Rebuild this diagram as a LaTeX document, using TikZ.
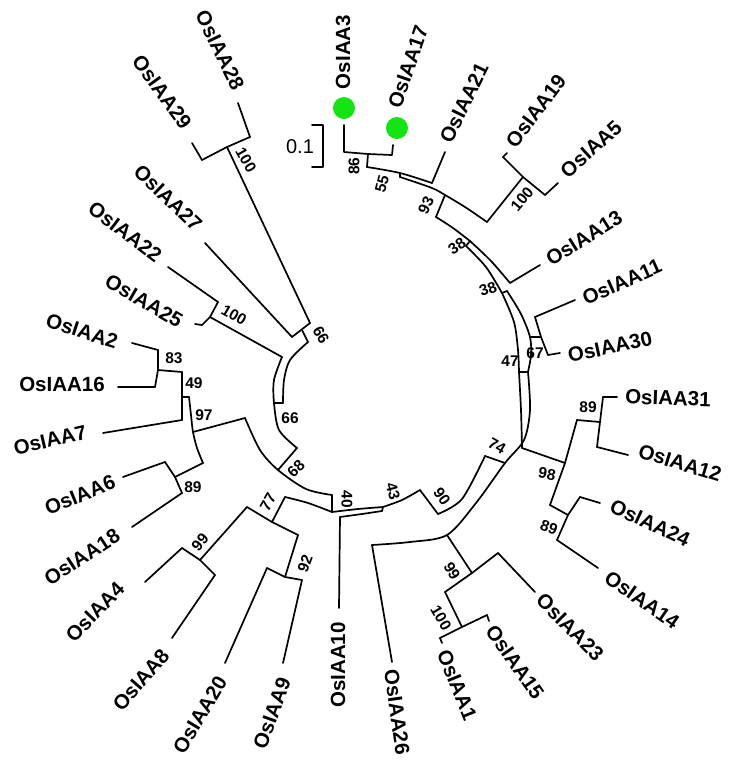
\documentclass[tikz,border=0pt]{standalone}
\usepackage{fontspec}
\setmainfont{Liberation Sans}
\definecolor{dotgreen}{RGB}{20,228,20}
\tikzset{
  br/.style={line width=1.7pt, line join=round, line cap=round},
  lab/.style={font=\fontsize{20.5}{24}\selectfont\bfseries, inner sep=0pt},
  bs/.style={font=\fontsize{15.5}{17}\selectfont\bfseries, inner sep=0pt},
  greendot/.style={circle, fill=dotgreen, minimum size=22pt, inner sep=0pt}
}
\begin{document}
\begin{tikzpicture}[x=1pt,y=-1pt]
\useasboundingbox (0,0) rectangle (730,766);

% ---------- scale bar ----------
\coordinate (sb1) at (312,125); \coordinate (sb2) at (323,125);
\coordinate (sb3) at (323,167); \coordinate (sb4) at (312,167);
\draw[br] (sb1) -- (sb2) -- (sb3) -- (sb4);
\node[font=\fontsize{20}{22}\selectfont, inner sep=0pt] (sbl) at (300,147) {0.1};

% ---------- clade OsIAA3 / 17 / 21 / 19 / 5 ----------
\coordinate (t3) at (344,125);  \coordinate (a86) at (344,152);
\coordinate (m86) at (368,154); \coordinate (b86) at (392,155);
\coordinate (t17) at (393,145); \coordinate (f86) at (367,167);
\coordinate (s55) at (400,173); \coordinate (s55i) at (400,177);
\coordinate (j21) at (432,183); \coordinate (t21) at (445,152);
\coordinate (n93) at (445,195); \coordinate (f93) at (436,217);
\coordinate (j100) at (487,222); \coordinate (m100) at (523,177);
\coordinate (a100) at (503,157); \coordinate (t19) at (507,153);
\coordinate (b100) at (545,195); \coordinate (t5) at (558,183);

\draw[br] (t3) -- (a86) -- (m86) -- (b86) -- (t17);
\draw[br] (m86) -- (f86);
\draw[br] plot[smooth] coordinates {(f86) (s55) (j21)};
\draw[br] (s55) -- (s55i);
\draw[br] plot[smooth] coordinates {(s55i) (432,188) (n93) (465,207) (j100)};
\draw[br] (j21) -- (t21);
\draw[br] (n93) -- (f93);
\draw[br] (j100) -- (m100);
\draw[br] (a100) -- (m100) -- (b100);
\draw[br] (a100) -- (t19);
\draw[br] (b100) -- (t5);

% ---------- right side: 13, 11, 30, 31, 12, 24, 14 ----------
\coordinate (n38u) at (470,241);  \coordinate (n38ui) at (466,246);
\coordinate (j13) at (510,283);   \coordinate (t13) at (540,265);
\coordinate (n38l) at (502,293);  \coordinate (n38lo) at (507,291);
\coordinate (f67) at (530,337);   \coordinate (m67) at (541,337);
\coordinate (a67) at (535,317);   \coordinate (b67) at (548,355);
\coordinate (t11) at (575,300);   \coordinate (t30) at (560,353);
\coordinate (n47i) at (519,372);  \coordinate (n47o) at (528,372);
\coordinate (j98) at (522,448);   \coordinate (m98) at (565,463);
\coordinate (a98) at (577,420);   \coordinate (b98) at (550,505);
\coordinate (a89u) at (603,397);  \coordinate (m89u) at (600,422);
\coordinate (b89u) at (597,447);  \coordinate (t31) at (617,397);
\coordinate (t12) at (628,455);
\coordinate (m89l) at (568,515);  \coordinate (a89l) at (580,497);
\coordinate (b89l) at (557,540);  \coordinate (t24) at (600,503);
\coordinate (t14) at (598,568);
\coordinate (n74o) at (505,463);  \coordinate (n74i) at (485,456);

\draw[br] plot[smooth] coordinates {(f93) (453,228) (n38u)};
\draw[br] plot[smooth] coordinates {(n38u) (491,261) (j13)};
\draw[br] (n38u) -- (n38ui);
\draw[br] plot[smooth] coordinates {(n38ui) (486,267) (n38l)};
\draw[br] (j13) -- (t13);
\draw[br] (n38l) -- (n38lo);
\draw[br] plot[smooth] coordinates {(n38lo) (521,314) (f67) (531,355) (n47o)};
\draw[br] (f67) -- (m67);
\draw[br] (a67) -- (m67) -- (b67);
\draw[br] (a67) -- (t11);
\draw[br] (b67) -- (t30);
\draw[br] plot[smooth] coordinates {(n38l) (514,322) (518,350) (n47i)};
\draw[br] (n47i) -- (n47o);
\draw[br] plot[smooth] coordinates {(n47i) (521,410) (j98)};
\draw[br] (j98) -- (m98);
\draw[br] (a98) -- (m98) -- (b98);
\draw[br] (a98) -- (m89u);
\draw[br] (a89u) -- (m89u) -- (b89u);
\draw[br] (a89u) -- (t31);
\draw[br] (b89u) -- (t12);
\draw[br] (b98) -- (m89l);
\draw[br] (a89l) -- (m89l) -- (b89l);
\draw[br] (a89l) -- (t24);
\draw[br] (b89l) -- (t14);

% ---------- bottom: 23, 15, 1, 26, 10 ----------
\coordinate (j26) at (372,545);   \coordinate (j99) at (447,535);
\coordinate (n90b) at (438,514);  \coordinate (n90t) at (420,490);
\coordinate (n43) at (383,507);   \coordinate (n43i) at (382,511);
\coordinate (n40t) at (332,495);  \coordinate (n40b) at (332,512);
\coordinate (j10) at (340,517);   \coordinate (t10) at (339,608);
\coordinate (t26) at (392,662);
\coordinate (m99) at (472,573);   \coordinate (a99) at (445,592);
\coordinate (b99) at (498,553);   \coordinate (t23) at (535,592);
\coordinate (m100b) at (462,627); \coordinate (a100b) at (440,638);
\coordinate (b100b) at (487,615); \coordinate (t1) at (442,643);
\coordinate (t15) at (489,621);

\draw[br] plot[smooth] coordinates {(n47o) (530,410) (524,440) (n74o) (476,503) (j99) (410,542) (j26)};
\draw[br] (n74o) -- (n74i);
\draw[br] plot[smooth] coordinates {(n74i) (462,499) (n90b)};
\draw[br] (n90b) -- (n90t);
\draw[br] plot[smooth] coordinates {(n90t) (402,500) (n43)};
\draw[br] (n43) -- (n43i);
\draw[br] plot[smooth] coordinates {(n40b) (358,509) (n43)};
\draw[br] plot[smooth] coordinates {(j10) (362,514) (n43i)};
\draw[br] (n40t) -- (n40b);
\draw[br] (j10) -- (t10);
\draw[br] (j26) -- (t26);
\draw[br] (j99) -- (m99);
\draw[br] (a99) -- (m99) -- (b99);
\draw[br] (b99) -- (t23);
\draw[br] (a99) -- (m100b);
\draw[br] (a100b) -- (m100b) -- (b100b);
\draw[br] (a100b) -- (t1);
\draw[br] (b100b) -- (t15);

% ---------- bottom left: 4, 8, 20, 9 ----------
\coordinate (j77) at (285,497);   \coordinate (m77) at (272,522);
\coordinate (a77) at (247,507);   \coordinate (b77) at (298,535);
\coordinate (m99b) at (200,560);  \coordinate (a99b) at (182,548);
\coordinate (b99b) at (215,575);  \coordinate (t4) at (145,582);
\coordinate (t8) at (172,638);
\coordinate (m92) at (285,577);   \coordinate (a92) at (267,568);
\coordinate (b92) at (302,580);   \coordinate (t20) at (225,663);
\coordinate (t9) at (283,663);

\draw[br] plot[smooth] coordinates {(j77) (308,503) (n40b)};
\draw[br] (j77) -- (m77);
\draw[br] (a77) -- (m77) -- (b77);
\draw[br] (a77) -- (m99b);
\draw[br] (a99b) -- (m99b) -- (b99b);
\draw[br] (a99b) -- (t4);
\draw[br] (b99b) -- (t8);
\draw[br] (b77) -- (m92);
\draw[br] (a92) -- (m92) -- (b92);
\draw[br] (a92) -- (t20);
\draw[br] (b92) -- (t9);

% ---------- left: 2, 16, 7, 6, 18 ----------
\coordinate (j97) at (245,418);   \coordinate (r97) at (193,432);
\coordinate (n49i) at (182,397);  \coordinate (n49o) at (189,397);
\coordinate (j83) at (182,372);   \coordinate (j7) at (182,420);
\coordinate (m83) at (158,370);   \coordinate (a83) at (158,350);
\coordinate (b83) at (155,387);   \coordinate (t2) at (132,343);
\coordinate (t16) at (118,387);   \coordinate (t7) at (103,433);
\coordinate (j89) at (203,463);   \coordinate (m89) at (175,477);
\coordinate (a89) at (165,462);   \coordinate (b89) at (182,493);
\coordinate (t6) at (123,477);    \coordinate (t18) at (132,527);
\coordinate (n68a) at (297,448);  \coordinate (n68b) at (278,470);

\draw[br] plot[smooth] coordinates {(j97) (260,450) (n68b) (306,489) (n40t)};
\draw[br] (n68a) -- (n68b);
\draw[br] (j97) -- (r97);
\draw[br] plot[smooth] coordinates {(n49o) (191,415) (r97) (197,448) (j89)};
\draw[br] (n49i) -- (n49o);
\draw[br] (j83) -- (n49i) -- (j7);
\draw[br] (j83) -- (m83);
\draw[br] (a83) -- (m83) -- (b83);
\draw[br] (a83) -- (t2);
\draw[br] (b83) -- (t16);
\draw[br] (j7) -- (t7);
\draw[br] (j89) -- (m89);
\draw[br] (a89) -- (m89) -- (b89);
\draw[br] (a89) -- (t6);
\draw[br] (b89) -- (t18);

% ---------- upper left: 25, 22, 27, 29, 28 ----------
\coordinate (j2225) at (282,357); \coordinate (m2225) at (210,317);
\coordinate (a2225) at (218,302); \coordinate (b2225) at (202,325);
\coordinate (t22) at (168,267);   \coordinate (t25) at (195,324);
\coordinate (n66a) at (292,337);  \coordinate (n66b) at (310,323);
\coordinate (n66m) at (302,330);  \coordinate (n66f) at (308,342);
\coordinate (t27) at (205,243);
\coordinate (m2829) at (227,147); \coordinate (a2829) at (250,137);
\coordinate (b2829) at (202,160); \coordinate (t28) at (238,103);
\coordinate (t29) at (192,143);
\coordinate (n66li) at (283,403); \coordinate (n66lo) at (274,403);

\draw[br] plot[smooth] coordinates {(j2225) (274,380) (n66lo) (279,430) (n68a)};
\draw[br] plot[smooth] coordinates {(n66f) (290,360) (284,380) (n66li)};
\draw[br] (n66li) -- (n66lo);
\draw[br] (n66m) -- (n66f);
\draw[br] (n66a) -- (n66b);
\draw[br] (n66a) -- (t27);
\draw[br] (n66b) -- (m2829);
\draw[br] (a2829) -- (m2829) -- (b2829);
\draw[br] (a2829) -- (t28);
\draw[br] (b2829) -- (t29);
\draw[br] (j2225) -- (m2225);
\draw[br] (a2225) -- (m2225) -- (b2225);
\draw[br] (a2225) -- (t22);
\draw[br] (b2225) -- (t25);

% ---------- marked genes ----------
\node[greendot] (d3) at (344,108) {};
\node[greendot] (d17) at (397,128) {};

% ---------- leaf labels ----------
\node[lab, rotate=90]  (L3)  at (343,52)  {OsIAA3};
\node[lab, rotate=71]  (L17) at (408,67)  {OsIAA17};
\node[lab, rotate=64]  (L21) at (464,103) {OsIAA21};
\node[lab, rotate=53]  (L19) at (536,111) {OsIAA19};
\node[lab, rotate=42]  (L5)  at (591,149) {OsIAA5};
\node[lab, rotate=32]  (L13) at (584,238) {OsIAA13};
\node[lab, rotate=24]  (L11) at (622,282) {OsIAA11};
\node[lab, rotate=12]  (L30) at (610,347) {OsIAA30};
\node[lab, rotate=-2]  (L31) at (668,398) {OsIAA31};
\node[lab, rotate=-17] (L12) at (680,463) {OsIAA12};
\node[lab, rotate=-25] (L24) at (650,523) {OsIAA24};
\node[lab, rotate=-35] (L14) at (642,600) {OsIAA14};
\node[lab, rotate=-45] (L23) at (570,627) {OsIAA23};
\node[lab, rotate=-55] (L15) at (515,662) {OsIAA15};
\node[lab, rotate=-68] (L1)  at (457,685) {OsIAA1};
\node[lab, rotate=-82] (L26) at (397,712) {OsIAA26};
\node[lab, rotate=90]  (L10) at (338,665) {OsIAA10};
\node[lab, rotate=70]  (L9)  at (272,713) {OsIAA9};
\node[lab, rotate=59]  (L20) at (200,715) {OsIAA20};
\node[lab, rotate=49]  (L8)  at (141,680) {OsIAA8};
\node[lab, rotate=46]  (L4)  at (95,612)  {OsIAA4};
\node[lab, rotate=33]  (L18) at (82,557)  {OsIAA18};
\node[lab, rotate=22]  (L6)  at (80,495)  {OsIAA6};
\node[lab, rotate=13]  (L7)  at (50,440)  {OsIAA7};
\node[lab, rotate=0]   (L16) at (62,384)  {OsIAA16};
\node[lab, rotate=-18] (L2)  at (82,331)  {OsIAA2};
\node[lab, rotate=-30] (L25) at (144,301) {OsIAA25};
\node[lab, rotate=-37] (L22) at (125,232) {OsIAA22};
\node[lab, rotate=-44] (L27) at (168,198) {OsIAA27};
\node[lab, rotate=-54] (L29) at (162,92)  {OsIAA29};
\node[lab, rotate=-64] (L28) at (220,50)  {OsIAA28};

% ---------- bootstrap values ----------
\node[bs, rotate=90]  (B86)  at (354,166) {86};
\node[bs, rotate=75]  (B55)  at (382,184) {55};
\node[bs, rotate=65]  (B93)  at (426,205) {93};
\node[bs, rotate=50]  (B100a) at (522,199) {100};
\node[bs, rotate=35]  (B38a) at (457,246) {38};
\node[bs, rotate=20]  (B38b) at (488,289) {38};
\node[bs]             (B47)  at (510,361) {47};
\node[bs]             (B67)  at (535,353) {67};
\node[bs]             (B89a) at (588,407) {89};
\node[bs, rotate=-10] (B98)  at (547,474) {98};
\node[bs, rotate=-20] (B89b) at (549,527) {89};
\node[bs, rotate=-30] (B74)  at (497,446) {74};
\node[bs, rotate=-55] (B90)  at (442,496) {90};
\node[bs, rotate=-75] (B43)  at (393,491) {43};
\node[bs, rotate=-90] (B40)  at (347,499) {40};
\node[bs, rotate=-60] (B99a) at (452,571) {99};
\node[bs, rotate=-60] (B100b) at (441,618) {100};
\node[bs, rotate=70]  (B92)  at (305,564) {92};
\node[bs, rotate=60]  (B77)  at (268,502) {77};
\node[bs, rotate=50]  (B99b) at (200,542) {99};
\node[bs, rotate=45]  (B68)  at (296,469) {68};
\node[bs]             (B66a) at (290,418) {66};
\node[bs]             (B97)  at (204,415) {97};
\node[bs]             (B89c) at (193,487) {89};
\node[bs]             (B49)  at (194,383) {49};
\node[bs]             (B83)  at (174,358) {83};
\node[bs, rotate=-60] (B66b) at (321,335) {66};
\node[bs, rotate=-30] (B100c) at (234,315) {100};
\node[bs, rotate=-60] (B100d) at (246,160) {100};
\end{tikzpicture}
\end{document}
